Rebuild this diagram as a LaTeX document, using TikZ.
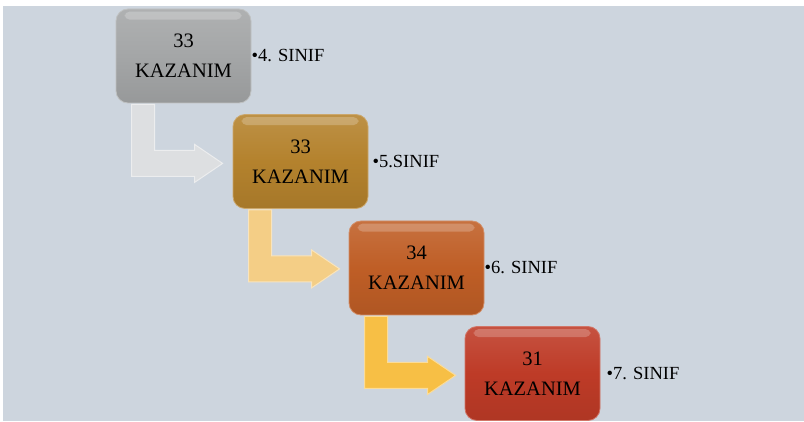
\documentclass[tikz,border=0pt]{standalone}
\usepackage{fontspec}
\setmainfont{Liberation Serif}

\definecolor{slide}{HTML}{CDD5DE}
\definecolor{boxA}{HTML}{A4A6A7}
\definecolor{boxB}{HTML}{B4822D}
\definecolor{boxC}{HTML}{BF5E26}
\definecolor{boxD}{HTML}{BE3B27}
\definecolor{arrA}{HTML}{DDDFE1}
\definecolor{arrB}{HTML}{F4CE86}
\definecolor{arrC}{HTML}{F7BF45}

\tikzset{
    kbox/.style={rounded corners=12pt, minimum width=135pt, minimum height=94pt,
        inner sep=0pt, align=center, font=\fontsize{20.5}{30}\selectfont,
        top color=#1!88!white, bottom color=#1!92!black, middle color=#1,
        draw=#1!70!white, line width=0.8pt},
    gloss/.style={white, opacity=0.22, rounded corners=5pt},
    karrow/.style={fill=#1, draw=#1!55!white, line width=1pt, line join=miter},
    sinif/.style={anchor=west, inner sep=0pt, font=\fontsize{18.5}{20}\selectfont}
}

\begin{document}
\begin{tikzpicture}[x=1pt, y=-1pt]
        % slide background
        \fill[white] (0, 0) rectangle (804, 422);
        \useasboundingbox (0, 0) rectangle (804, 422);
        \fill[slide] (3, 6) rectangle (804, 421);

        % boxes
        \node[kbox=boxA] (b1) at (183.5, 56) {33\\KAZANIM};
        \node[kbox=boxB] (b2) at (300.5, 161.5) {33\\KAZANIM};
        \node[kbox=boxC] (b3) at (416.5, 268) {34\\KAZANIM};
        \node[kbox=boxD] (b4) at (532.5, 373.5) {31\\KAZANIM};

        \fill[gloss] (b1.north west) ++(9, 3) rectangle ++(117, 8);
        \fill[gloss] (b2.north west) ++(9, 3) rectangle ++(117, 8);
        \fill[gloss] (b3.north west) ++(9, 3) rectangle ++(117, 8);
        \fill[gloss] (b4.north west) ++(9, 3) rectangle ++(117, 8);

        % bent arrows
        \filldraw[karrow=arrA] (b1.south west) ++(16, 1) -- ++(0, 72) -- ++(63, 0) -- ++(0, 6)
            -- ++(28, -19) -- ++(-28, -19) -- ++(0, 6) -- ++(-40, 0) -- ++(0, -46) -- cycle;
        \filldraw[karrow=arrB] (b2.south west) ++(16, 1) -- ++(0, 72) -- ++(63, 0) -- ++(0, 6)
            -- ++(28, -19) -- ++(-28, -19) -- ++(0, 6) -- ++(-40, 0) -- ++(0, -46) -- cycle;
        \filldraw[karrow=arrC] (b3.south west) ++(16, 1) -- ++(0, 72) -- ++(63, 0) -- ++(0, 6)
            -- ++(28, -19) -- ++(-28, -19) -- ++(0, 6) -- ++(-40, 0) -- ++(0, -46) -- cycle;

        % labels
        \node[sinif] (s1) at ([xshift=0pt]b1.east) {•4. SINIF};
        \node[sinif] (s2) at ([xshift=4pt]b2.east) {•5.SINIF};
        \node[sinif] (s3) at ([xshift=0pt]b3.east) {•6. SINIF};
        \node[sinif] (s4) at ([xshift=6pt]b4.east) {•7. SINIF};
    \end{tikzpicture}
\end{document}
